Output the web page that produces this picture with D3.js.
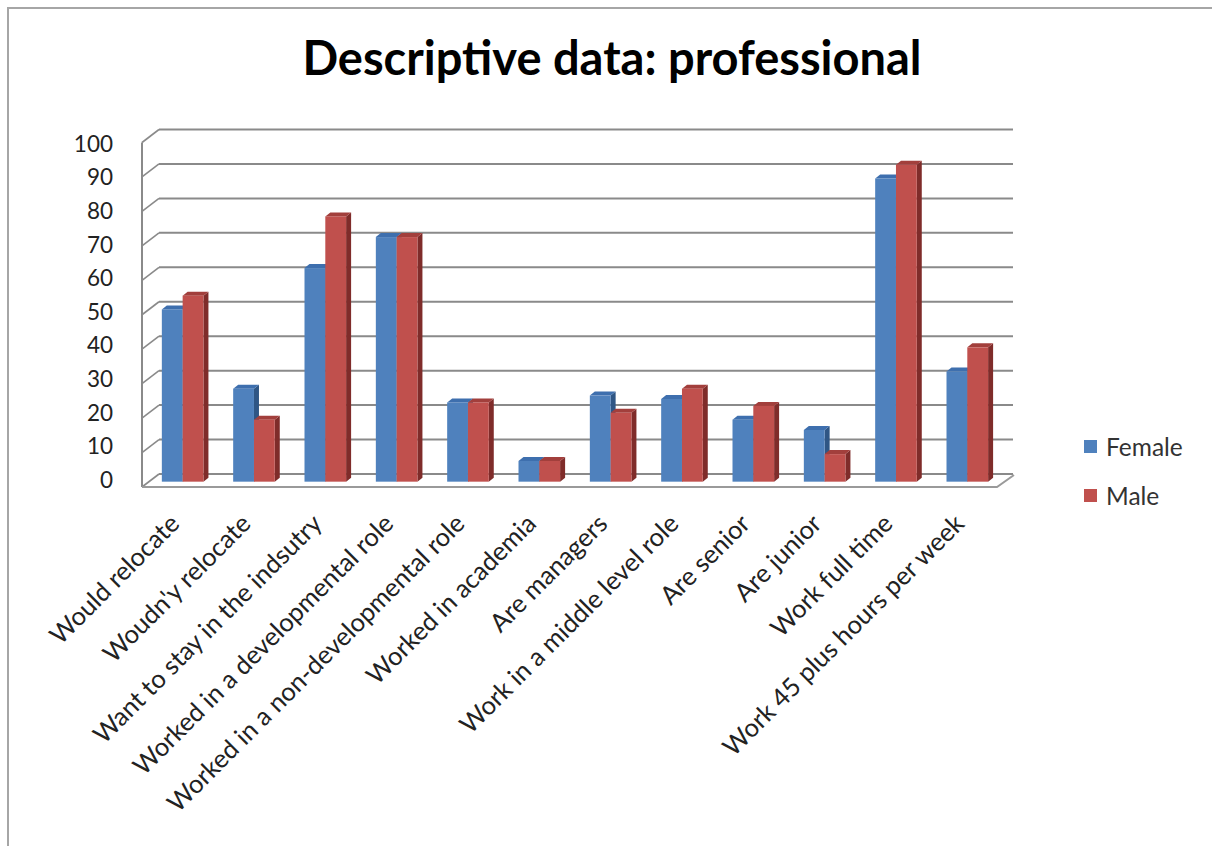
<!DOCTYPE html>
<html><head><meta charset="utf-8">
<script src="https://cdn.jsdelivr.net/npm/d3@7"></script>
<style>html,body{margin:0;padding:0;background:#fff}svg{display:block}</style>
</head><body>
<script>
const categories = ["Would relocate","Woudn'y relocate","Want to stay in the indsutry","Worked in a developmental role","Worked in a non-developmental role","Worked in academia","Are managers","Work in a middle level role","Are senior","Are junior","Work full time","Work 45 plus hours per week"];
const seriesNames = ["Female","Male"];
const female = [50,27,62,71,23,6,25,24,18,15,88,32];
const male   = [54,18,77,71,23,6,20,27,22,8,92,39];
const yTicks = [0,10,20,30,40,50,60,70,80,90,100];
const title = "Descriptive data: professional";

const W=1212,H=846;
const colors = {Female:{front:"#4F81BD",side:"#2F5685",top:"#3E6FAE"}, Male:{front:"#C0504D",side:"#7F2C2A",top:"#A23F3C"}};
const svg = d3.select("body").append("svg").attr("width",W).attr("height",H);
svg.append("rect").attr("width",W).attr("height",H).attr("fill","#fff");
svg.append("path").attr("d","M8,846 L8,8 L1212,8").attr("fill","none").attr("stroke","#a6a6a6").attr("stroke-width",2);

const font = "Lato, 'Open Sans', sans-serif";
svg.append("text").attr("x",612).attr("y",75).attr("text-anchor","middle")
  .attr("font-family",font).attr("font-weight","bold").attr("font-size",47).attr("fill","#000").text(title);

const DX=17, DY=-13;
const f=0.41;
const yFront = d3.scaleLinear().domain([0,100]).range([487,142.5]);
const x0 = d3.scaleBand().domain(categories).range([142,998]);
const groupW = 41.6;
const x1 = d3.scaleBand().domain(seriesNames).range([0,groupW]);
const bdx=5, bdy=-4;

const g = svg.append("g");
const grid="#8a8a8a";
yTicks.forEach(t=>{
  const yf=yFront(t);
  g.append("line").attr("x1",142+DX).attr("x2",1013).attr("y1",yf+DY).attr("y2",yf+DY).attr("stroke",grid).attr("stroke-width",2);
  g.append("line").attr("x1",142).attr("y1",yf).attr("x2",142+DX).attr("y2",yf+DY).attr("stroke",grid).attr("stroke-width",1.6);
});
g.append("line").attr("x1",142).attr("x2",142).attr("y1",yFront(100)).attr("y2",yFront(0)).attr("stroke",grid).attr("stroke-width",2);
g.append("path").attr("d",`M142,${yFront(0)} L${x0.range()[1]-1},${yFront(0)} L${1014},${yFront(0)+DY+1}`)
  .attr("fill","none").attr("stroke","#9a9a9a").attr("stroke-width",2);

const yLabel = d3.scaleLinear().domain([0,100]).range([480,144]);
svg.append("g").selectAll("text").data(yTicks).join("text")
  .attr("x",113).attr("y",d=>yLabel(d)).attr("dy","0.35em").attr("text-anchor","end")
  .attr("font-family",font).attr("font-size",22.5).attr("fill","#222").text(d=>d);

const bars = svg.append("g");
const data=[];
categories.forEach((c,i)=>{ data.push({c,s:"Female",v:female[i]}); data.push({c,s:"Male",v:male[i]}); });
const yBar = v => yFront(v) + f*DY;
data.forEach(d=>{
  const xl = x0(d.c) + (x0.bandwidth()-groupW)/2 - 2 + x1(d.s) + f*DX;
  const w = x1.bandwidth();
  const yt = yBar(d.v), yb = yBar(0);
  const col = colors[d.s];
  const gg = bars.append("g");
  gg.append("path").attr("d",`M${xl+w},${yt} L${xl+w+bdx},${yt+bdy} L${xl+w+bdx},${yb+bdy} L${xl+w},${yb} Z`).attr("fill",col.side);
  gg.append("path").attr("d",`M${xl},${yt} L${xl+bdx},${yt+bdy} L${xl+w+bdx},${yt+bdy} L${xl+w},${yt} Z`).attr("fill",col.top);
  gg.append("rect").attr("x",xl).attr("y",yt).attr("width",w).attr("height",yb-yt).attr("fill",col.front);
});

svg.append("g").selectAll("text").data(categories).join("text")
  .attr("transform",d=>`translate(${x0(d)+x0.bandwidth()/2-3},${519}) rotate(-45)`)
  .attr("text-anchor","end").attr("dy","0.35em")
  .attr("font-family",font).attr("font-size",25.5).attr("fill","#222").text(d=>d);

const leg = svg.append("g");
seriesNames.forEach((s,i)=>{
  const y = 440 + i*49;
  leg.append("rect").attr("x",1084).attr("y",y).attr("width",13).attr("height",13).attr("fill",colors[s].front);
  leg.append("text").attr("x",1106).attr("y",y+7).attr("dy","0.35em").attr("font-family",font).attr("font-size",24.5).attr("fill","#333").text(s);
});
</script>
</body></html>
